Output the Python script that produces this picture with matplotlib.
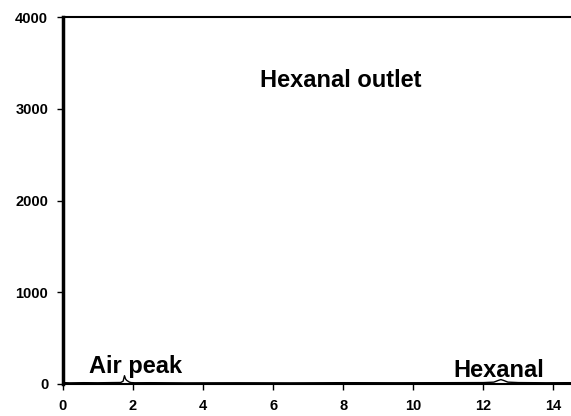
import matplotlib
matplotlib.use('Agg')
import matplotlib.pyplot as plt

# retention time (min) and detector signal
time = [0.0, 0.2, 0.6, 1.0, 1.4, 1.65, 1.72, 1.76, 1.79, 1.82, 1.86, 1.9, 1.95, 2.05,
        2.5, 3.5, 5.0, 6.5, 8.0, 9.5, 11.0, 12.0, 12.3, 12.42, 12.5, 12.58, 12.7,
        13.0, 13.8, 14.5]
signal = [15, 12, 14, 13, 15, 16, 30, 90, 55, 40, 30, 20, 15, 13,
          14, 12, 13, 12, 14, 13, 14, 15, 20, 38, 48, 38, 20,
          15, 13, 14]

y_ticks = [0, 1000, 2000, 3000, 4000]
x_ticks = [0, 2, 4, 6, 8, 10, 12, 14]

plt.rcParams['font.family'] = ['Liberation Sans', 'DejaVu Sans']
plt.rcParams['font.weight'] = 'bold'

fig = plt.figure(figsize=(5.71, 4.16), dpi=100)
ax = fig.add_axes([0.110, 0.077, 0.890, 0.882])

ax.plot(time, signal, color='black', linewidth=1.0)

ax.set_xlim(0, 14.5)
ax.set_ylim(0, 4000)
ax.set_xticks(x_ticks)
ax.set_yticks(y_ticks)
ax.tick_params(axis='both', labelsize=10.5, direction='out', length=4.5, width=1)
ax.tick_params(axis='x', pad=6)
ax.tick_params(axis='y', pad=6)
for lbl in ax.get_xticklabels() + ax.get_yticklabels():
    lbl.set_fontweight('bold')

ax.spines['left'].set_linewidth(2.5)
ax.spines['bottom'].set_linewidth(1.5)
ax.spines['top'].set_linewidth(1.5)
ax.spines['right'].set_visible(False)

ax.text(7.94, 3237, 'Hexanal outlet', fontsize=17, fontweight='bold', ha='center', va='baseline')
ax.text(0.74, 120, 'Air peak', fontsize=17, fontweight='bold', ha='left', va='baseline')
ax.text(11.14, 76, 'Hexanal', fontsize=17, fontweight='bold', ha='left', va='baseline')

fig.savefig('out.png', dpi=100)
